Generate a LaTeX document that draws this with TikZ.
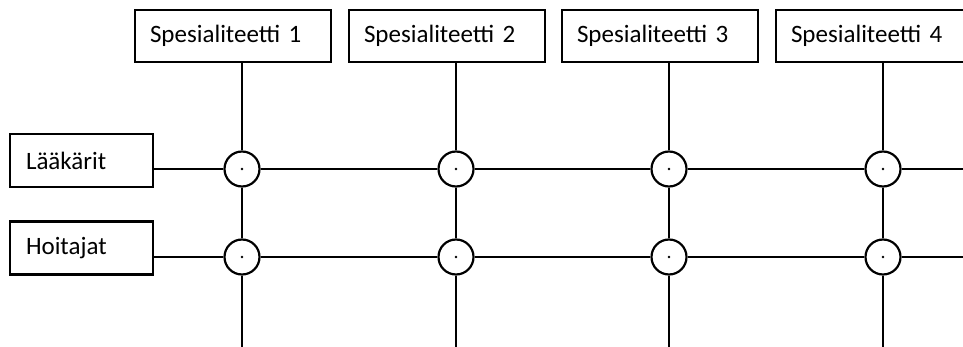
\documentclass[tikz,border=0pt]{standalone}
\usepackage{fontspec}
\setmainfont{Carlito}
\begin{document}
\begin{tikzpicture}[x=1pt,y=-1pt,
  box/.style={draw, line width=2.2pt, rectangle, minimum height=52pt, inner xsep=15pt, inner ysep=0pt, align=left, font=\fontsize{25}{30}\selectfont},
  colbox/.style={box, text width=166pt, minimum width=196pt},
  rowbox/.style={box, text width=111pt, minimum width=143pt, inner xsep=16pt, minimum height=53pt},
  joint/.style={draw, circle, line width=2.2pt, minimum size=35pt, inner sep=0pt, fill=white},
  ln/.style={line width=2.2pt},
  dotc/.style={fill, circle, inner sep=0pt, minimum size=2.8pt}
]
\clip (0,0) rectangle (963,347);
\fill[white] (0,0) rectangle (963,347);

% column boxes
\node[colbox] (s1) at (233,36) {Spesialiteetti 1};
\node[colbox] (s2) at (447,36) {Spesialiteetti 2};
\node[colbox] (s3) at (660,36) {Spesialiteetti 3};
\node[colbox] (s4) at (874,36) {Spesialiteetti 4};

% row boxes
\node[rowbox] (r1) at (81.5,160.5) {Lääkärit};
\node[rowbox] (r2) at (81.5,248) {Hoitajat};

% joints
\foreach \c/\x in {1/242,2/456,3/669,4/883}{
  \node[joint] (j1\c) at (\x,169) {};
  \node[dotc] (d1\c) at (j1\c.center) {};
  \node[joint] (j2\c) at (\x,257) {};
  \node[dotc] (d2\c) at (j2\c.center) {};
  \coordinate (b\c) at (\x,347);
}
\coordinate (e1) at (963,169);
\coordinate (e2) at (963,257);

% vertical connectors
\foreach \c in {1,2,3,4}{
  \draw[ln] (s\c.south -| j1\c.north) -- (j1\c.north);
  \draw[ln] (j1\c.south) -- (j2\c.north);
  \draw[ln] (j2\c.south) -- (b\c);
}

% horizontal connectors
\foreach \r in {1,2}{
  \draw[ln] (r\r.east |- j\r1.west) -- (j\r1.west);
  \draw[ln] (j\r1.east) -- (j\r2.west);
  \draw[ln] (j\r2.east) -- (j\r3.west);
  \draw[ln] (j\r3.east) -- (j\r4.west);
  \draw[ln] (j\r4.east) -- (e\r);
}
\end{tikzpicture}
\end{document}
